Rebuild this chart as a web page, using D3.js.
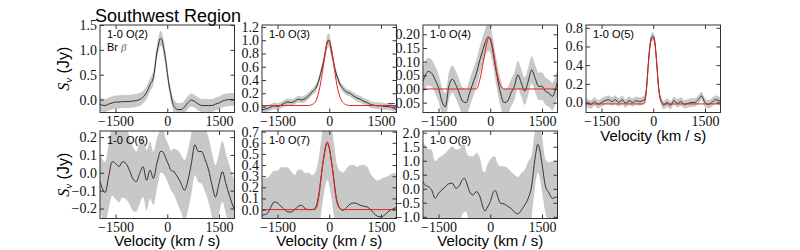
<!DOCTYPE html>
<html>
<head>
<meta charset="utf-8">
<script src="https://cdn.jsdelivr.net/npm/d3@7"></script>
<style>
body { margin: 0; background: #fff; }
</style>
</head>
<body>
<script>
// velocity grid (km/s) shared by most lines
var velGrid = [-1950,-1800,-1700,-1600,-1500,-1400,-1300,-1200,-1100,-1000,-900,-800,-700,-600,-500,-400,-300,
               -250,-200,-150,-100,-50,0,50,100,150,200,250,
               300,400,500,600,700,800,900,1000,1100,1200,1300,1400,1500,1600,1700,1800,
               1950];

// 1-0 O(2) + Br beta
var fluxO2 = [-0.10,-0.12,-0.09,-0.07,-0.05,-0.05,-0.04,-0.04,-0.04,-0.03,-0.02,0.00,0.05,0.14,0.30,0.45,0.95,
              1.12,1.23,1.20,1.02,0.82,0.55,0.30,0.12,-0.05,-0.14,-0.18,
              -0.20,-0.20,-0.15,-0.06,-0.01,-0.04,-0.09,-0.12,-0.12,-0.12,-0.12,-0.09,-0.07,-0.03,-0.01,0.00,
              0.00];
var errO2 = [0.13,0.13,0.13,0.13,0.13,0.13,0.13,0.13,0.13,0.13,0.13,0.13,0.13,0.13,0.13,0.14,0.15,
             0.15,0.15,0.15,0.15,0.15,0.14,0.13,0.13,0.13,0.13,0.13,
             0.13,0.13,0.13,0.13,0.13,0.13,0.13,0.13,0.13,0.13,0.13,0.13,0.13,0.13,0.13,0.13,
             0.13];

// 1-0 O(3)
var fluxO3 = [-0.05,-0.03,-0.01,0.01,0.00,0.02,0.05,0.07,0.06,0.08,0.11,0.10,0.12,0.16,0.22,0.27,0.40,
              0.50,0.60,0.72,0.86,0.99,1.00,0.86,0.74,0.60,0.50,0.42,
              0.35,0.27,0.22,0.20,0.16,0.13,0.11,0.08,0.06,0.03,0.02,0.01,0.01,0.00,0.00,-0.01,
              -0.05];
var errO3 = [0.05,0.05,0.05,0.05,0.05,0.05,0.05,0.05,0.05,0.05,0.05,0.05,0.05,0.05,0.05,0.05,0.06,
             0.06,0.07,0.08,0.09,0.10,0.10,0.09,0.08,0.07,0.06,0.06,
             0.05,0.05,0.05,0.05,0.05,0.05,0.05,0.05,0.05,0.05,0.05,0.05,0.05,0.05,0.05,0.05,
             0.05];
var modelVelO3 = [-1950,-600,-500,-400,-300,-200,-150,-100,-50,0,50,100,150,200,300,400,500,600,1950];
var modelO3 = [0.015,0.015,0.03,0.07,0.23,0.51,0.69,0.86,0.97,0.99,0.91,0.76,0.57,0.39,0.16,0.06,0.025,0.015,0.015];

// 1-0 O(4)
var fluxO4 = [0.028,0.064,0.058,0.034,0.004,-0.045,-0.065,0.010,0.036,0.016,-0.015,-0.045,-0.050,-0.015,0.022,0.058,0.107,
              0.128,0.149,0.168,0.185,0.190,0.182,0.155,0.119,0.080,0.046,0.012,
              -0.015,-0.050,-0.045,-0.015,0.010,0.052,0.022,-0.008,0.028,0.070,0.040,0.010,0.010,-0.008,-0.015,-0.027,
              0.028];
var errO4 = [0.05,0.05,0.05,0.05,0.05,0.05,0.05,0.05,0.05,0.05,0.05,0.05,0.05,0.05,0.05,0.05,0.05,
             0.05,0.05,0.05,0.05,0.05,0.05,0.05,0.05,0.05,0.05,0.05,
             0.05,0.05,0.05,0.05,0.05,0.05,0.05,0.05,0.05,0.05,0.05,0.05,0.05,0.05,0.05,0.05,
             0.05];
var modelVelO4 = [-1950,-400,-300,-200,-100,-50,0,50,100,200,300,400,1950];
var modelO4 = [0,0,0.035,0.10,0.168,0.186,0.186,0.165,0.13,0.055,0.012,0,0];

// 1-0 O(5)
var fluxO5 = [0.00,-0.02,0.01,-0.02,0.00,0.02,0.03,0.01,0.03,0.00,0.03,-0.01,0.02,0.00,0.02,0.01,0.02,
              0.035,0.14,0.39,0.60,0.70,0.71,0.64,0.43,0.18,0.05,0.00,
              -0.03,0.00,-0.03,0.02,-0.01,0.01,-0.02,-0.01,0.00,0.00,0.03,0.07,0.00,-0.02,0.00,0.03,
              0.01];
var errO5 = [0.045,0.045,0.045,0.045,0.045,0.045,0.045,0.045,0.045,0.045,0.045,0.045,0.045,0.045,0.045,0.045,0.045,
             0.045,0.045,0.045,0.045,0.045,0.045,0.045,0.045,0.045,0.045,0.045,
             0.045,0.045,0.045,0.045,0.045,0.045,0.045,0.045,0.045,0.045,0.045,0.045,0.045,0.045,0.045,0.045,
             0.045];
var modelVelO5 = [-1950,-300,-250,-200,-150,-100,-50,0,50,100,150,200,250,300,1950];
var modelO5 = [-0.015,-0.015,0.0,0.12,0.36,0.58,0.68,0.69,0.62,0.42,0.18,0.05,0.005,-0.015,-0.015];

// 1-0 O(6)
var fluxO6 = [-0.05,-0.11,-0.023,0.062,0.053,0.034,0.062,0.053,0.015,-0.032,-0.05,-0.004,0.034,-0.042,0.015,-0.032,0.053,
              0.09,0.119,0.12,0.109,0.085,0.062,0.04,0.015,0.01,0.006,-0.01,
              -0.023,-0.06,-0.098,-0.042,0.053,0.157,0.119,0.119,0.072,0.015,-0.07,-0.136,-0.06,0.006,-0.06,-0.126,
              -0.21];
var errO6 = [0.16,0.17,0.18,0.19,0.20,0.20,0.20,0.20,0.19,0.18,0.17,0.17,0.17,0.17,0.16,0.15,0.14,
             0.13,0.12,0.12,0.12,0.11,0.11,0.11,0.11,0.12,0.13,0.14,
             0.15,0.16,0.17,0.17,0.17,0.17,0.17,0.18,0.18,0.18,0.18,0.18,0.17,0.17,0.17,0.17,
             0.17];

// 1-0 O(7)
var fluxO7 = [-0.05,-0.036,0.018,0.069,0.06,0.03,0.0,-0.021,-0.021,0.0,0.03,0.039,0.009,0.0,0.0,0.018,0.144,
              0.26,0.384,0.48,0.565,0.595,0.55,0.46,0.354,0.23,0.114,0.05,
              0.018,-0.006,0.018,0.048,0.06,0.054,0.039,0.03,0.024,0.0,-0.036,-0.06,-0.066,-0.05,-0.021,0.0,
              0.018];
var errO7 = [0.33,0.32,0.30,0.28,0.29,0.35,0.38,0.40,0.36,0.31,0.33,0.32,0.32,0.33,0.31,0.32,0.33,
             0.33,0.33,0.33,0.33,0.33,0.33,0.33,0.33,0.33,0.33,0.33,
             0.33,0.34,0.35,0.35,0.34,0.33,0.36,0.37,0.36,0.32,0.32,0.32,0.34,0.34,0.32,0.32,
             0.31];
var modelVelO7 = [-1950,-400,-300,-200,-100,-60,0,100,200,300,400,1950];
var modelO7 = [0,0,0.12,0.38,0.58,0.61,0.56,0.35,0.10,0.01,0,0];

// 1-0 O(8) has its own grid around the 1400 km/s feature
var velO8 = [-1950,-1900,-1800,-1700,-1600,-1500,-1400,-1300,-1200,-1100,
             -1000,-900,-800,-750,-700,-600,-500,-400,-300,-200,
             -150,-100,0,100,150,200,300,400,500,600,
             700,800,900,1000,1100,1200,1300,1380,1450,1500,
             1600,1700,1800,1900,1950];
var fluxO8 = [0.26,0.14,0.08,-0.04,-0.34,-0.16,-0.04,0.08,0.18,0.20,
              0.02,0.10,0.34,0.38,0.26,-0.10,-0.22,-0.10,-0.28,-0.70,
              -0.79,-0.70,-0.46,-0.10,-0.07,-0.22,-0.52,-0.54,-0.62,-0.70,
              -0.82,-0.90,-0.76,-0.58,-0.34,0.10,1.10,1.58,1.30,0.90,
              0.10,-0.14,-0.34,-0.30,-0.28];
var errO8 = [1.38,1.44,1.34,1.44,1.32,1.26,1.22,1.20,1.22,1.32,
             1.38,1.32,1.24,1.20,1.08,1.26,1.38,1.38,1.38,1.32,
             1.40,1.50,1.50,1.26,1.20,1.14,1.32,1.34,1.36,1.32,
             1.32,1.32,1.32,1.26,1.30,1.10,1.00,1.00,1.00,1.00,
             0.96,1.08,1.32,1.28,1.28];

var velTicks = [-1500, 0, 1500];

var panels = [
  {name: "1-0 O(2)", sub: true, vel: velGrid, flux: fluxO2, err: errO2, ydom: [-0.26, 1.5], yticks: [0, 0.5, 1.0, 1.5], fmt: ".1f", col: 0, row: 0, ylab: true},
  {name: "1-0 O(3)", vel: velGrid, flux: fluxO3, err: errO3, mvel: modelVelO3, model: modelO3, ydom: [-0.09, 1.23], yticks: [0, 0.2, 0.4, 0.6, 0.8, 1.0, 1.2], fmt: ".1f", col: 1, row: 0},
  {name: "1-0 O(4)", vel: velGrid, flux: fluxO4, err: errO4, mvel: modelVelO4, model: modelO4, ydom: [-0.086, 0.234], yticks: [-0.05, 0, 0.05, 0.1, 0.15, 0.2], fmt: ".2f", col: 2, row: 0},
  {name: "1-0 O(5)", vel: velGrid, flux: fluxO5, err: errO5, mvel: modelVelO5, model: modelO5, ydom: [-0.107, 0.83], yticks: [0, 0.2, 0.4, 0.6, 0.8], fmt: ".1f", col: 3, row: 0, xlab: true},
  {name: "1-0 O(6)", vel: velGrid, flux: fluxO6, err: errO6, ydom: [-0.256, 0.234], yticks: [-0.2, -0.1, 0, 0.1, 0.2], fmt: ".1f", col: 0, row: 1, ylab: true, xlab: true},
  {name: "1-0 O(7)", vel: velGrid, flux: fluxO7, err: errO7, mvel: modelVelO7, model: modelO7, ydom: [-0.08, 0.706], yticks: [0, 0.1, 0.2, 0.3, 0.4, 0.5, 0.6, 0.7], fmt: ".1f", col: 1, row: 1, xlab: true},
  {name: "1-0 O(8)", vel: velO8, flux: fluxO8, err: errO8, ydom: [-1.06, 2.06], yticks: [-1, -0.5, 0, 0.5, 1, 1.5, 2], fmt: ".1f", col: 2, row: 1, xlab: true}
];

var colX = [100, 262, 423, 586];
var rowY = [25, 131];
var pw = 134.5, ph = 87.5;

var serif = "'Liberation Serif', 'Times New Roman', serif";
var sans = "'Liberation Sans', Arial, sans-serif";

var svg = d3.select("body").append("svg")
            .attr("width", 800)
            .attr("height", 250);

svg.append("text")
   .attr("x", 95)
   .attr("y", 22)
   .style("font-family", sans)
   .style("font-size", "18px")
   .text("Southwest Region");

var minus = function(s) { return s.replace("-", "\u2212"); };

panels.forEach(function(p, i) {
  var x0 = colX[p.col], y0 = rowY[p.row];
  var x = d3.scaleLinear().domain([-1950, 1950]).range([0, pw]);
  var y = d3.scaleLinear().domain(p.ydom).range([ph, 0]);

  var g = svg.append("g").attr("transform", "translate(" + x0 + "," + y0 + ")");

  g.append("clipPath").attr("id", "clip" + i)
   .append("rect").attr("width", pw).attr("height", ph);

  var plot = g.append("g").attr("clip-path", "url(#clip" + i + ")");

  var rows = p.vel.map(function(v, k) { return {v: v, f: p.flux[k], e: p.err[k]}; });

  var band = d3.area()
               .x(function(d) { return x(d.v); })
               .y0(function(d) { return y(d.f - d.e); })
               .y1(function(d) { return y(d.f + d.e); })
               .curve(d3.curveMonotoneX);
  plot.append("path").datum(rows)
      .attr("d", band)
      .attr("fill", "#c8c8c8");

  var line = d3.line()
               .x(function(d) { return x(d.v); })
               .y(function(d) { return y(d.f); })
               .curve(d3.curveMonotoneX);
  plot.append("path").datum(rows)
      .attr("d", line)
      .attr("fill", "none")
      .attr("stroke", "#222")
      .attr("stroke-width", 0.9);

  if (p.model) {
    var mrows = p.mvel.map(function(v, k) { return {v: v, f: p.model[k]}; });
    plot.append("path").datum(mrows)
        .attr("d", line)
        .attr("fill", "none")
        .attr("stroke", "#e8231f")
        .attr("stroke-width", 1);
  }

  // ticks inward on all sides
  var fmt = d3.format(p.fmt);
  var ax = g.append("g").call(d3.axisLeft(y).tickValues(p.yticks).tickSize(-4).tickPadding(3)
                                .tickFormat(function(d) { return minus(fmt(d)); }));
  ax.select(".domain").remove();
  ax.selectAll("text").style("font-family", serif).style("font-size", "14px").attr("fill", "#111");

  var ar = g.append("g").attr("transform", "translate(" + pw + ",0)")
            .call(d3.axisRight(y).tickValues(p.yticks).tickSize(-4).tickFormat(""));
  ar.select(".domain").remove();

  var ab = g.append("g").attr("transform", "translate(0," + ph + ")")
            .call(d3.axisBottom(x).tickValues(velTicks).tickSize(-4).tickPadding(4)
                    .tickFormat(function(d) { return minus(String(d)); }));
  ab.select(".domain").remove();
  ab.selectAll("text").style("font-family", serif).style("font-size", "14px").attr("fill", "#111");

  var at = g.append("g").call(d3.axisTop(x).tickValues(velTicks).tickSize(-4).tickFormat(""));
  at.select(".domain").remove();

  g.selectAll(".tick line").attr("stroke", "#333");

  g.append("rect")
   .attr("width", pw).attr("height", ph)
   .attr("fill", "none")
   .attr("stroke", "#333")
   .attr("stroke-width", 1);

  g.append("text")
   .attr("x", 7).attr("y", 13)
   .style("font-family", sans)
   .style("font-size", "11px")
   .text(p.name);
  if (p.sub) {
    var l2 = g.append("text")
              .attr("x", 7).attr("y", 26)
              .style("font-family", sans)
              .style("font-size", "11px");
    l2.append("tspan").text("Br ");
    l2.append("tspan").style("font-family", serif).style("font-style", "italic").attr("fill", "#666").text("\u03b2");
  }

  if (p.xlab) {
    g.append("text")
     .attr("x", pw / 2).attr("y", p.row === 0 ? 116 : 115)
     .attr("text-anchor", "middle")
     .style("font-family", sans)
     .style("font-size", "15px")
     .text("Velocity (km / s)");
  }

  if (p.ylab) {
    var yl = g.append("text")
              .attr("transform", "translate(-31," + (ph / 2) + ") rotate(-90)")
              .attr("text-anchor", "middle")
              .style("font-size", "16px");
    yl.append("tspan").style("font-family", serif).style("font-style", "italic").text("S");
    yl.append("tspan").style("font-family", serif).style("font-style", "italic")
      .style("font-size", "11px").attr("dy", 3).text("\u03bd");
    yl.append("tspan").style("font-family", sans).attr("dy", -3).text(" (Jy)");
  }
});
</script>
</body>
</html>
